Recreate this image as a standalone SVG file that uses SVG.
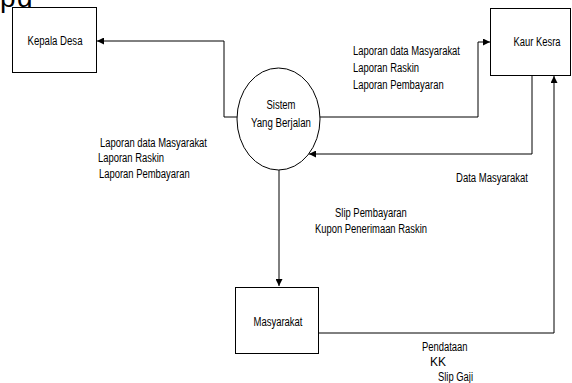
<svg xmlns="http://www.w3.org/2000/svg" width="572" height="383" viewBox="0 0 572 383">
<defs>
<style>
.box{fill:#fff;stroke:#000;stroke-width:1}
.lbl{font-family:"Liberation Sans",Arial,sans-serif;font-size:12px;fill:#000}
.mid{text-anchor:middle}
.con{fill:none;stroke:#000;stroke-width:1}
.big{font-family:"Liberation Sans",Arial,sans-serif;font-size:28px;fill:#000}
</style>
<marker id="ah" viewBox="0 0 10 10" refX="10" refY="5" markerWidth="7" markerHeight="7" markerUnits="userSpaceOnUse" orient="auto">
<path d="M0,0 L10,5 L0,10 z" fill="#000"/>
</marker>
</defs>
<rect width="572" height="383" fill="#fff"/>
<text class="big" x="0" y="7">p</text>
<text class="big" x="17" y="7">g</text>

<g id="connectors">
<polyline class="con" points="237,117 224,117 224,41 97,41" marker-end="url(#ah)"/>
<polyline class="con" points="320,117 478,117 478,42 490,42" marker-end="url(#ah)"/>
<polyline class="con" points="532,76 532,154 309,154" marker-end="url(#ah)"/>
<line class="con" x1="279" y1="170" x2="279" y2="286" marker-end="url(#ah)"/>
<polyline class="con" points="319,333 554,333 554,76" marker-end="url(#ah)"/>
<text class="lbl" x="353" y="55" textLength="107" lengthAdjust="spacingAndGlyphs">Laporan data Masyarakat</text>
<text class="lbl" x="353" y="72" textLength="66" lengthAdjust="spacingAndGlyphs">Laporan Raskin</text>
<text class="lbl" x="353" y="89" textLength="90.7" lengthAdjust="spacingAndGlyphs">Laporan Pembayaran</text>
<text class="lbl" x="100" y="147" textLength="107" lengthAdjust="spacingAndGlyphs">Laporan data Masyarakat</text>
<text class="lbl" x="98" y="162" textLength="66" lengthAdjust="spacingAndGlyphs">Laporan Raskin</text>
<text class="lbl" x="99" y="178" textLength="90.7" lengthAdjust="spacingAndGlyphs">Laporan Pembayaran</text>
<text class="lbl" x="456" y="182" textLength="72" lengthAdjust="spacingAndGlyphs">Data Masyarakat</text>
<text class="lbl" x="335" y="217" textLength="71.8" lengthAdjust="spacingAndGlyphs">Slip Pembayaran</text>
<text class="lbl" x="315" y="233" textLength="112" lengthAdjust="spacingAndGlyphs">Kupon Penerimaan Raskin</text>
<text class="lbl" x="422" y="351" textLength="45.6" lengthAdjust="spacingAndGlyphs">Pendataan</text>
<text class="lbl" x="430" y="366" font-size="13">KK</text>
<text class="lbl" x="438" y="381" textLength="35" lengthAdjust="spacingAndGlyphs">Slip Gaji</text>
</g>

<g id="kepala-desa">
<rect class="box" x="12.5" y="7.5" width="84" height="65"/>
<text class="lbl mid" x="55" y="45" textLength="55" lengthAdjust="spacingAndGlyphs">Kepala Desa</text>
</g>

<g id="sistem">
<ellipse class="box" cx="278.5" cy="119" rx="41.5" ry="51"/>
<text class="lbl mid" x="281" y="109" textLength="29" lengthAdjust="spacingAndGlyphs">Sistem</text>
<text class="lbl mid" x="281" y="127" textLength="60" lengthAdjust="spacingAndGlyphs">Yang Berjalan</text>
</g>

<g id="kaur-kesra">
<rect class="box" x="490.5" y="8.5" width="80" height="67"/>
<text class="lbl mid" x="537" y="46" textLength="47" lengthAdjust="spacingAndGlyphs">Kaur Kesra</text>
</g>

<g id="masyarakat">
<rect class="box" x="235.5" y="287.5" width="83" height="66"/>
<text class="lbl mid" x="278" y="326" textLength="49" lengthAdjust="spacingAndGlyphs">Masyarakat</text>
</g>
</svg>
